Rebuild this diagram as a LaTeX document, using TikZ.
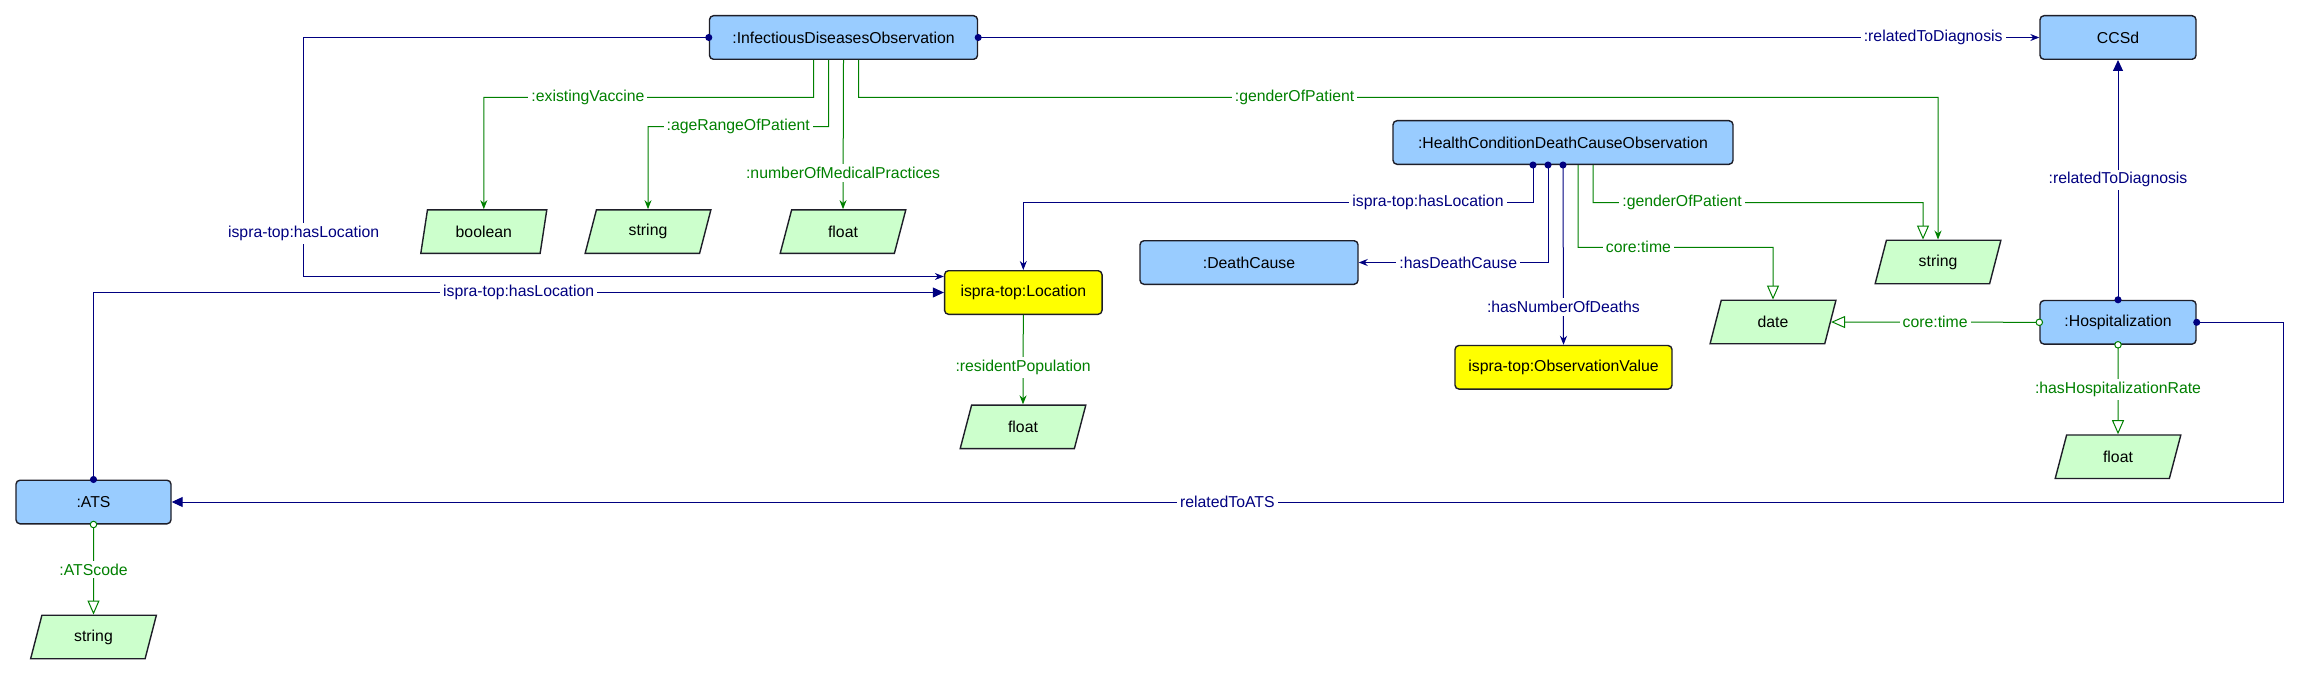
\documentclass[tikz,border=0pt]{standalone}
\usepackage{fontspec}
\setmainfont{Liberation Sans}
\usetikzlibrary{arrows.meta,shapes.geometric}

\definecolor{conceptblue}{RGB}{153,204,255}
\definecolor{extyellow}{RGB}{255,255,0}
\definecolor{datafill}{RGB}{204,255,204}
\definecolor{boxborder}{RGB}{30,30,40}
\definecolor{objnavy}{RGB}{0,0,128}
\definecolor{propgreen}{RGB}{0,128,0}

\begin{document}
\begin{tikzpicture}[x = 1pt, y = -1pt, font = \fontsize{15.8}{18}\selectfont,
                    concept/.style = {draw = boxborder, fill = conceptblue, rounded corners = 4pt, line width = 1.4pt, minimum height = 43.6pt, inner sep = 0pt},
                    external/.style = {concept, fill = extyellow},
                    datatype/.style = {trapezium, trapezium left angle = 74, trapezium right angle = 106, trapezium stretches = true, draw = boxborder, fill = datafill, line width = 1.4pt, minimum width = 126pt, minimum height = 43.5pt, inner sep = 0pt},
                    objlabel/.style = {fill = white, text = objnavy, inner xsep = 3pt, inner ysep = 3pt},
                    datalabel/.style = {fill = white, text = propgreen, inner xsep = 3pt, inner ysep = 3pt},
                    objarrow/.style = {draw = objnavy, line width = 1pt, arrows = {Circle[length=7pt]-Stealth[length=9pt,width=7pt]}, shorten <= -3.5pt},
                    objtriangle/.style = {draw = objnavy, line width = 1pt, arrows = {Circle[length=7pt]-Triangle[length=11pt,width=10pt]}, shorten <= -3.5pt},
                    dataarrow/.style = {draw = propgreen, line width = 1pt, arrows = {-Stealth[length=9pt,width=7pt]}},
                    dataopen/.style = {draw = propgreen, line width = 1pt, arrows = {-Triangle[open,length=14pt,width=12pt,fill=white]}},
                    dataring/.style = {dataopen, arrows = {Circle[open,length=7.5pt,fill=white]-Triangle[open,length=14pt,width=12pt,fill=white]}, shorten <= -3.75pt}]

\path[use as bounding box, fill = white] (0,0) rectangle (2299,674);

% concepts
\node [concept, minimum width = 268pt] (IDO) at (843.5,37.5) {:InfectiousDiseasesObservation};
\node [concept, minimum width = 156pt] (CCSd) at (2118,37.5) {CCSd};
\node [concept, minimum width = 340pt] (HCDCO) at (1563,142.5) {:HealthConditionDeathCauseObservation};
\node [concept, minimum width = 218pt] (DeathCause) at (1249,262.5) {:DeathCause};
\node [external, minimum width = 157.5pt] (Location) at (1023.3,292.5) {ispra-top:Location};
\node [external, minimum width = 217pt] (ObsValue) at (1563.5,367.3) {ispra-top:ObservationValue};
\node [concept, minimum width = 156pt] (Hosp) at (2118,322.3) {:Hospitalization};
\node [concept, minimum width = 155pt] (ATS) at (93.5,502) {:ATS};

% datatypes
\node [datatype] (boolean) at (483.8,231.6) {boolean};
\node [datatype] (stringA) at (648,231.6) {string};
\node [datatype] (floatA) at (843,231.6) {float};
\node [datatype] (stringB) at (1938,262) {string};
\node [datatype] (date) at (1773,322) {date};
\node [datatype] (floatB) at (1023,426.8) {float};
\node [datatype] (floatC) at (2118,456.7) {float};
\node [datatype] (stringC) at (93.5,637) {string};

% object properties
\draw[objarrow] (IDO.west) -- (303.6,37.5) -- node[objlabel, pos = 0.82]{ispra-top:hasLocation} (303.6,276.5) -- ([yshift=16pt]Location.west);
\draw[objarrow] (IDO.east) -- node[objlabel, pos = 0.9]{:relatedToDiagnosis} (CCSd.west);
\draw[objarrow] ([xshift=-30pt]HCDCO.south) -- (1533,202.7) -- node[objlabel, pos = 0.206]{ispra-top:hasLocation} (1023.3,202.7) -- (Location.north);
\draw[objarrow] ([xshift=-15pt]HCDCO.south) -- (1548,262.5) -- node[objlabel, pos = 0.474]{:hasDeathCause} (DeathCause.east);
\draw[objarrow] (HCDCO.south) -- node[objlabel, pos = 0.79]{:hasNumberOfDeaths} (ObsValue.north);
\draw[objtriangle] (ATS.north) -- (93.5,292.5) -- node[objlabel, pos = 0.5]{ispra-top:hasLocation} (Location.west);
\draw[objtriangle] (Hosp.north) -- node[objlabel, pos = 0.5]{:relatedToDiagnosis} (CCSd.south);
\draw[objtriangle] (Hosp.east) -- (2283,322.3) -- (2283,502) -- node[objlabel, pos = 0.5]{relatedToATS} (ATS.east);

% data properties
\draw[dataarrow] ([xshift=-30pt]IDO.south) -- (813.5,97.5) -- node[datalabel, pos = 0.684]{:existingVaccine} (483.8,97.5) -- (boolean.north);
\draw[dataarrow] ([xshift=-15pt]IDO.south) -- (828.5,126.7) -- node[datalabel, pos = 0.5]{:ageRangeOfPatient} (648,126.7) -- (stringA.north);
\draw[dataarrow] (IDO.south) -- node[datalabel, pos = 0.756]{:numberOfMedicalPractices} (floatA.north);
\draw[dataarrow] ([xshift=15pt]IDO.south) -- (858.5,97.5) -- node[datalabel, pos = 0.404]{:genderOfPatient} (1938,97.5) -- (stringB.north);
\draw[dataopen] ([xshift=15pt]HCDCO.south) -- (1578,247.3) -- node[datalabel, pos = 0.31]{core:time} (1773,247.3) -- (date.north);
\draw[dataopen] ([xshift=30pt]HCDCO.south) -- (1593,202.7) -- node[datalabel, pos = 0.27]{:genderOfPatient} (1923,202.7) -- ([xshift=-15pt]stringB.north);
\draw[dataarrow] (Location.south) -- node[datalabel, pos = 0.587]{:residentPopulation} (floatB.north);
\draw[dataring] (Hosp.west) -- node[datalabel, pos = 0.5]{core:time} (date.east);
\draw[dataring] (Hosp.south) -- node[datalabel, pos = 0.5]{:hasHospitalizationRate} (floatC.north);
\draw[dataring] (ATS.south) -- node[datalabel, pos = 0.5]{:ATScode} (stringC.north);

\end{tikzpicture}
\end{document}
